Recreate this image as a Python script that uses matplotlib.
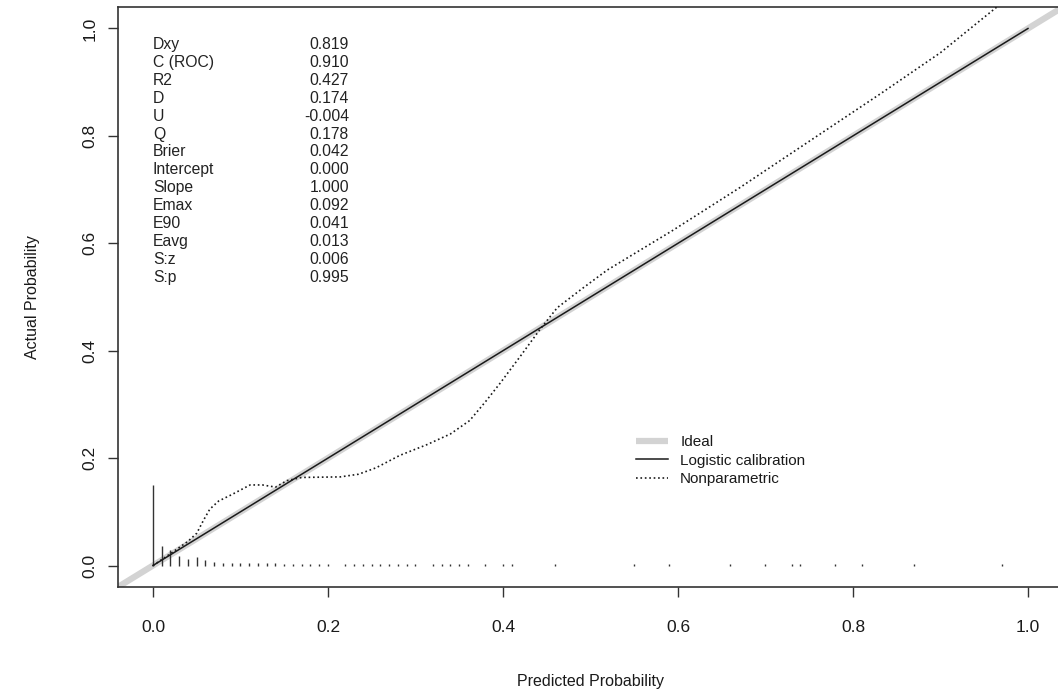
import matplotlib
matplotlib.use("Agg")
import matplotlib.pyplot as plt

plt.rcParams['font.family'] = ['Liberation Sans', 'DejaVu Sans']

# statistics block (label, value)
stat_names = ["Dxy", "C (ROC)", "R2", "D", "U", "Q", "Brier", "Intercept",
              "Slope", "Emax", "E90", "Eavg", "S:z", "S:p"]
stat_values = ["0.819", "0.910", "0.427", "0.174", "-0.004", "0.178", "0.042",
               "0.000", "1.000", "0.092", "0.041", "0.013", "0.006", "0.995"]

# logistic calibration line (intercept 0, slope 1)
logit_x = [0.0, 1.0]
logit_y = [0.0, 1.0]

# nonparametric (lowess) calibration curve
np_x = [0.0, 0.02, 0.04, 0.05, 0.058, 0.065, 0.075, 0.09, 0.111, 0.125, 0.14,
        0.153, 0.17, 0.214, 0.235, 0.255, 0.282, 0.313, 0.34, 0.362, 0.38,
        0.397, 0.42, 0.442, 0.462, 0.49, 0.519, 0.594, 0.671, 0.739, 0.831,
        0.90, 0.972]
np_y = [0.0, 0.022, 0.045, 0.06, 0.085, 0.105, 0.12, 0.132, 0.15, 0.15, 0.146,
        0.158, 0.164, 0.165, 0.17, 0.182, 0.205, 0.225, 0.245, 0.27, 0.305,
        0.34, 0.39, 0.439, 0.48, 0.515, 0.55, 0.624, 0.704, 0.778, 0.878,
        0.955, 1.05]

# distribution of predicted probabilities (spikes along the bottom)
rug_x = [0.00, 0.01, 0.02, 0.03, 0.04, 0.05, 0.06, 0.07, 0.08, 0.09, 0.10,
         0.11, 0.12, 0.13, 0.14, 0.15, 0.16, 0.17, 0.18, 0.19, 0.20, 0.22,
         0.23, 0.24, 0.25, 0.26, 0.27, 0.28, 0.29, 0.30, 0.32, 0.33, 0.34,
         0.35, 0.36, 0.38, 0.40, 0.41, 0.46, 0.55, 0.59, 0.66, 0.70, 0.73,
         0.74, 0.78, 0.81, 0.87, 0.97]
rug_h = [0.150, 0.037, 0.028, 0.017, 0.013, 0.016, 0.010, 0.006, 0.005, 0.005,
         0.004, 0.004, 0.004, 0.004, 0.004, 0.003, 0.003, 0.003, 0.003, 0.003,
         0.003, 0.003, 0.003, 0.003, 0.003, 0.003, 0.003, 0.003, 0.003, 0.003,
         0.003, 0.003, 0.003, 0.003, 0.003, 0.003, 0.003, 0.003, 0.003, 0.003,
         0.003, 0.003, 0.003, 0.003, 0.003, 0.003, 0.003, 0.003, 0.003]

fig = plt.figure(figsize=(10.58, 6.94), dpi=100)
ax = fig.add_axes([0.1115, 0.1542, 0.8932, 0.8357])

ax.axline((0, 0), slope=1, color="#d3d3d3", lw=4.5, solid_capstyle="butt",
          label="Ideal", zorder=1)
ax.plot(logit_x, logit_y, color="#1a1a1a", lw=1.1, label="Logistic calibration", zorder=3)
ax.plot(np_x, np_y, color="#1a1a1a", lw=1.2, ls=":", label="Nonparametric", zorder=3)
ax.vlines(rug_x, 0, rug_h, color="#333333", lw=1.0, zorder=2)

ax.set_xlim(-0.04, 1.04)
ax.set_ylim(-0.04, 1.04)
ticks = [0.0, 0.2, 0.4, 0.6, 0.8, 1.0]
ax.set_xticks(ticks)
ax.set_yticks(ticks)
ax.set_xticklabels([f"{t:.1f}" for t in ticks])
ax.set_yticklabels([f"{t:.1f}" for t in ticks], rotation=90, va="center")
ax.tick_params(axis="both", labelsize=12.5, length=7, width=1.0,
               color="#333333", labelcolor="#1a1a1a")
ax.tick_params(axis="x", pad=17)
ax.tick_params(axis="y", pad=8)
for s in ax.spines.values():
    s.set_color("#333333")
    s.set_linewidth(1.2)

ax.set_xlabel("Predicted Probability", fontsize=11.5, color="#1a1a1a", labelpad=28)
ax.set_ylabel("Actual Probability", fontsize=11.5, color="#1a1a1a", labelpad=30)

# stats text
for i, (n, v) in enumerate(zip(stat_names, stat_values)):
    yy = 0.970 - i * 0.0333
    ax.text(0.0, yy, n, ha="left", va="center", fontsize=11.3, color="#222222")
    ax.text(0.224, yy, v, ha="right", va="center", fontsize=11.3, color="#222222")

ax.legend(loc="upper left", bbox_to_anchor=(0.548, 0.262), frameon=False,
          fontsize=11, borderpad=0, borderaxespad=0, handlelength=2.1,
          handletextpad=0.8, labelspacing=0.3, labelcolor="#1a1a1a")

fig.savefig("out.png", dpi=100)
